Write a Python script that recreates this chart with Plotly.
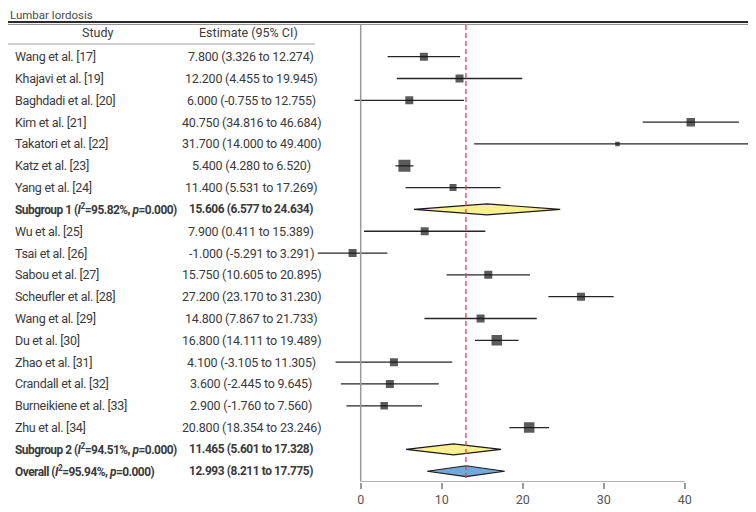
import plotly.graph_objects as go

# ---------------- data ----------------
studies = [
    "Wang et al. [17]", "Khajavi et al. [19]", "Baghdadi et al. [20]", "Kim et al. [21]",
    "Takatori et al. [22]", "Katz et al. [23]", "Yang et al. [24]",
    "Subgroup 1 (<i>I</i><sup>2</sup>=95.82%, <i>p</i>=0.000)",
    "Wu et al. [25]", "Tsai et al. [26]", "Sabou et al. [27]", "Scheufler et al. [28]",
    "Wang et al. [29]", "Du et al. [30]", "Zhao et al. [31]", "Crandall et al. [32]",
    "Burneikiene et al. [33]", "Zhu et al. [34]",
    "Subgroup 2 (<i>I</i><sup>2</sup>=94.51%, <i>p</i>=0.000)",
    "Overall (<i>I</i><sup>2</sup>=95.94%, <i>p</i>=0.000)",
]
estimate = [7.800, 12.200, 6.000, 40.750, 31.700, 5.400, 11.400, 15.606,
            7.900, -1.000, 15.750, 27.200, 14.800, 16.800, 4.100, 3.600, 2.900, 20.800,
            11.465, 12.993]
ci_low = [3.326, 4.455, -0.755, 34.816, 14.000, 4.280, 5.531, 6.577,
          0.411, -5.291, 10.605, 23.170, 7.867, 14.111, -3.105, -2.445, -1.760, 18.354,
          5.601, 8.211]
ci_high = [12.274, 19.945, 12.755, 46.684, 49.400, 6.520, 17.269, 24.634,
           15.389, 3.291, 20.895, 31.230, 21.733, 19.489, 11.305, 9.645, 7.560, 23.246,
           17.328, 17.775]
row_kind = ["study"] * 7 + ["subgroup"] + ["study"] * 10 + ["subgroup", "overall"]
x_ticks = [0, 10, 20, 30, 40]

# ---------------- styles ----------------
FONT = "Liberation Sans Narrow, Roboto, sans-serif"
TXT = "#3a3a3a"
GRAY = "#9a9a9a"
W, H = 748, 504          # page body has an 8px margin
study_marker_px = [8, 8, 8, 8.5, 4.5, 12, 7, 8, 8, 8, 8, 8, 10.5, 8, 8, 7.5, 10.5]
diamond_fill = {"subgroup": "#f9f08f", "overall": "#72a9dc"}
DIAMOND_HALF = 0.25


def tight(txt, ls, bold=False):
    inner = "<b>" + txt + "</b>" if bold else txt
    return '<span style="letter-spacing:%spx">' % ls + inner + "</span>"


fig = go.Figure()

ci_x, ci_y, mx, my = [], [], [], []
for i, k in enumerate(row_kind):
    if k == "study":
        ci_x += [ci_low[i], ci_high[i], None]
        ci_y += [i, i, None]
        mx.append(estimate[i])
        my.append(i)
fig.add_trace(go.Scatter(x=ci_x, y=ci_y, mode="lines",
                         line=dict(color="#262626", width=1.3),
                         hoverinfo="skip", showlegend=False))
fig.add_trace(go.Scatter(x=mx, y=my, mode="markers",
                         marker=dict(symbol="square", size=study_marker_px, color="#151515",
                                     line=dict(width=0)),
                         showlegend=False))

for i, k in enumerate(row_kind):
    if k != "study":
        fig.add_trace(go.Scatter(
            x=[ci_low[i], estimate[i], ci_high[i], estimate[i], ci_low[i]],
            y=[i, i - DIAMOND_HALF, i, i + DIAMOND_HALF, i],
            mode="lines", fill="toself", fillcolor=diamond_fill[k],
            line=dict(color="#1a1a1a", width=1.2), showlegend=False, hoverinfo="skip"))

overall_idx = row_kind.index("overall")
last = len(studies) - 1
y_bottom = last + 0.48
y_top_line = -1.45

shapes = []
shapes.append(dict(type="line", xref="x", yref="y", x0=0, x1=0, y0=y_top_line, y1=y_bottom,
                   line=dict(color=GRAY, width=1.5)))
shapes.append(dict(type="line", xref="x", yref="y", x0=estimate[overall_idx], x1=estimate[overall_idx],
                   y0=y_top_line, y1=y_bottom, line=dict(color="#e0404a", width=1.3, dash="5px,3px")))
shapes.append(dict(type="line", xref="x", yref="y", x0=x_ticks[0], x1=x_ticks[-1], y0=y_bottom, y1=y_bottom,
                   line=dict(color=GRAY, width=1.5)))
shapes.append(dict(type="line", xref="paper", yref="y", x0=0.0, x1=740 / W, y0=-1.59, y1=-1.59,
                   line=dict(color="#2a2a2a", width=2)))
shapes.append(dict(type="line", xref="paper", yref="y", x0=0.0, x1=740 / W, y0=-1.48, y1=-1.48,
                   line=dict(color="#8a8a8a", width=1)))
shapes.append(dict(type="line", xref="paper", yref="y", x0=0.0, x1=307 / W, y0=-0.58, y1=-0.58,
                   line=dict(color="#a0a0a0", width=1)))

annotations = []
annotations.append(dict(text="Lumbar lordosis", xref="paper", yref="y", x=0.0, y=-1.93,
                        xanchor="left", yanchor="middle", showarrow=False,
                        font=dict(family=FONT, size=11.5, color="#4a4a4a")))
annotations.append(dict(text="Study", xref="paper", yref="y", x=89 / W, y=-1.09,
                        xanchor="center", yanchor="middle", showarrow=False,
                        font=dict(family=FONT, size=12.5, color=TXT)))
annotations.append(dict(text="Estimate (95% CI)", xref="paper", yref="y", x=240 / W, y=-1.09,
                        xanchor="center", yanchor="middle", showarrow=False,
                        font=dict(family=FONT, size=12.5, color=TXT)))
for i, name in enumerate(studies):
    est_txt = "{:.3f} ({:.3f} to {:.3f})".format(estimate[i], ci_low[i], ci_high[i])
    if row_kind[i] == "study":
        lab, lab_size = tight(name, -0.3), 12.5
        est, est_size = tight(est_txt, -0.2), 12.5
    else:
        lab, lab_size = tight(name, -0.5, True), 11.9
        est, est_size = tight(est_txt, -0.4, True), 11.9
    annotations.append(dict(text=lab, xref="paper", yref="y", x=5 / W, y=i,
                            xanchor="left", yanchor="middle", showarrow=False,
                            font=dict(family=FONT, size=lab_size, color=TXT)))
    annotations.append(dict(text=est, xref="paper", yref="y", x=243 / W, y=i,
                            xanchor="center", yanchor="middle", showarrow=False,
                            font=dict(family=FONT, size=est_size, color=TXT)))

fig.update_layout(
    width=W, height=H, margin=dict(l=0, r=0, t=0, b=0),
    paper_bgcolor="white", plot_bgcolor="white",
    shapes=shapes, annotations=annotations,
    xaxis=dict(domain=[304.1 / W, 741.5 / W], range=[-6, 48],
               tickvals=x_ticks, ticktext=[str(t) for t in x_ticks],
               ticks="outside", ticklen=6, tickwidth=1.5, tickcolor=GRAY,
               showline=False, showgrid=False, zeroline=False,
               tickfont=dict(family=FONT, size=12.5, color="#555555")),
    yaxis=dict(domain=[(H - 473.7) / H, 1.0], range=[y_bottom, -2.232],
               showticklabels=False, showgrid=False, zeroline=False, showline=False,
               ticks=""),
)

fig.write_html("out.html")
